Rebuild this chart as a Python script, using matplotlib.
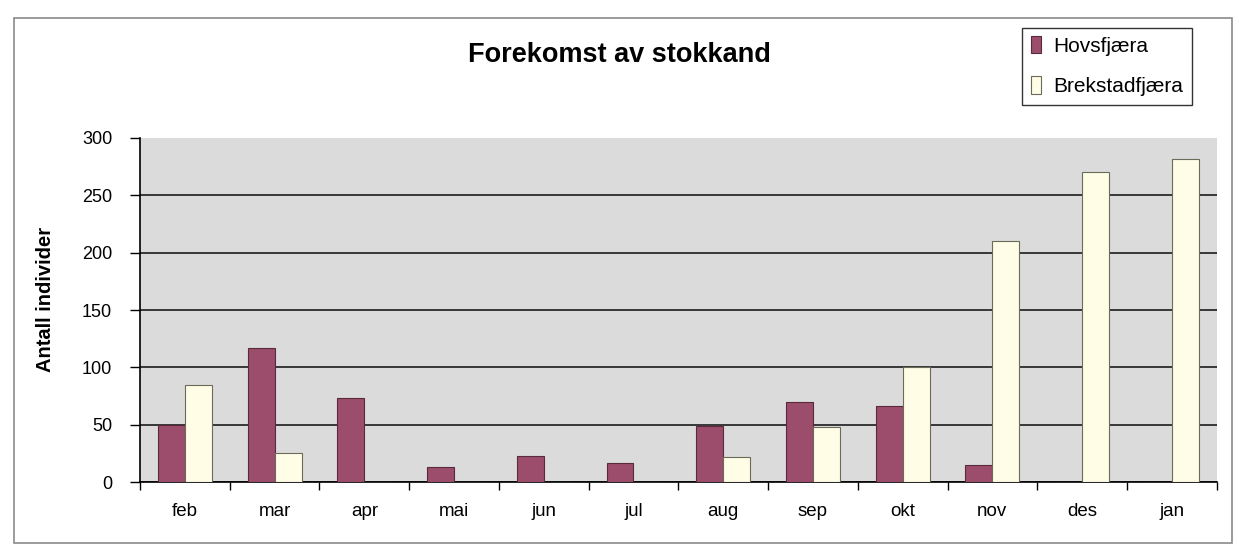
import matplotlib.pyplot as plt
from matplotlib.patches import Rectangle
import numpy as np

months = ["feb", "mar", "apr", "mai", "jun", "jul", "aug", "sep", "okt", "nov", "des", "jan"]
hovsfjaera = [50, 117, 73, 13, 23, 17, 49, 70, 66, 15, 0, 0]
brekstadfjaera = [85, 25, 0, 0, 0, 0, 22, 48, 100, 210, 270, 282]
y_ticks = [0, 50, 100, 150, 200, 250, 300]

plt.rcParams["font.family"] = ["Liberation Sans", "DejaVu Sans"]

fig = plt.figure(figsize=(12.39, 5.5), dpi=100)
ax = fig.add_axes([0.113, 0.1236, 0.869, 0.6255])

x = np.arange(len(months))
w = 0.30
ax.bar(x - w / 2, hovsfjaera, w, color="#9c4d6c", edgecolor="#5a2a3c",
       linewidth=0.8, label="Hovsfjæra", zorder=3)
ax.bar(x + w / 2, brekstadfjaera, w, color="#fffde6", edgecolor="#6b6b5a",
       linewidth=0.8, label="Brekstadfjæra", zorder=3)

ax.set_facecolor("#dbdbdb")
ax.set_xlim(-0.5, len(months) - 0.5)
ax.set_ylim(0, 300)
ax.set_yticks(y_ticks)
ax.tick_params(axis="y", labelsize=13, length=7, width=1, pad=13)
ax.set_xticks(x)
ax.set_xticklabels(months)
ax.set_xticks(np.arange(-0.5, len(months), 1), minor=True)
ax.tick_params(axis="x", which="major", length=0, labelsize=13.5, pad=15)
ax.tick_params(axis="x", which="minor", length=6, width=1)

ax.yaxis.grid(True, color="#2a2a2a", linewidth=1.3, zorder=1)
ax.set_axisbelow(True)
ax.get_ygridlines()[-1].set_visible(False)

for side in ["top", "right"]:
    ax.spines[side].set_visible(False)
ax.spines["left"].set_linewidth(1.2)
ax.spines["bottom"].set_linewidth(1.2)

ax.set_ylabel("Antall individer", fontsize=14.5, fontweight="bold")
ax.yaxis.set_label_coords(-0.0875 + 0.0085, 0.53)

fig.text(0.5, 0.9, "Forekomst av stokkand", ha="center", va="center",
         fontsize=19.5, fontweight="bold")

leg = fig.legend(loc="upper left", bbox_to_anchor=(0.825, 0.95), fontsize=15,
                 frameon=True, fancybox=False, edgecolor="black",
                 handlelength=0.5, handleheight=0.9, handletextpad=0.6,
                 labelspacing=1.0, borderpad=0.4, borderaxespad=0.0)
leg.get_frame().set_linewidth(1.0)

fig.patches.append(Rectangle((0.011, 0.012), 0.983, 0.955, transform=fig.transFigure,
                             fill=False, edgecolor="#8a8a8a", linewidth=1.2))

fig.savefig("out.png", dpi=100)
